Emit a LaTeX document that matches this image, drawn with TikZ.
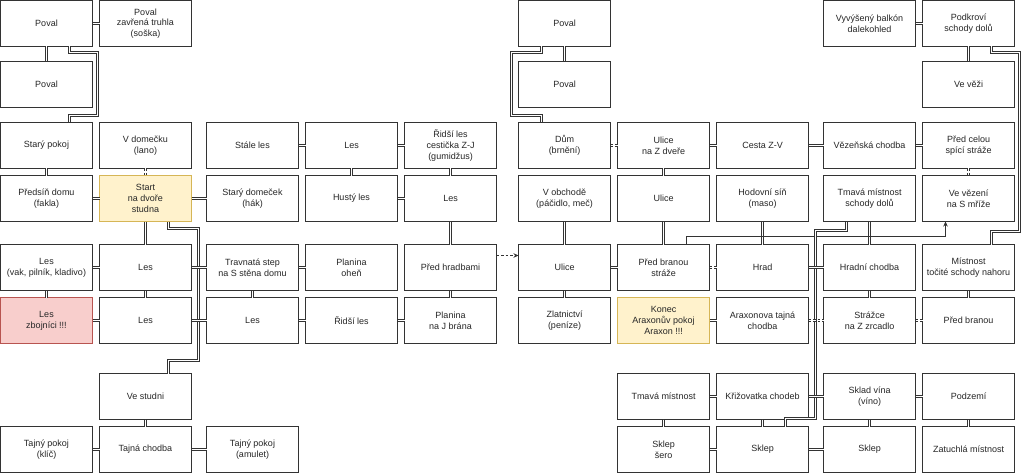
\documentclass[tikz,border=0pt]{standalone}
\usepackage{fontspec}
\setmainfont{Liberation Sans}
\usetikzlibrary{arrows.meta}
\definecolor{ylwf}{HTML}{FFF2CC}
\definecolor{ylwd}{HTML}{D6B656}
\definecolor{redf}{HTML}{F8CECC}
\definecolor{redd}{HTML}{B85450}
\definecolor{ln}{HTML}{333333}
\begin{document}
\begin{tikzpicture}[x=1pt,y=-1pt,
  box/.style={draw=ln, fill=white, line width=0.75pt, minimum width=92pt, minimum height=46pt,
    inner sep=0pt, outer sep=0pt, align=center, font=\fontsize{9}{10.8}\selectfont, text=black!85},
  startbox/.style={box, fill=ylwf, draw=ylwd},
  dangerbox/.style={box, fill=redf, draw=redd},
  link/.style={draw=ln, line width=1pt, double=white, double distance=1.2pt},
  dlink/.style={link, dash pattern=on 2.5pt off 2pt},
  arr/.style={draw=ln, line width=0.75pt, -{Stealth[length=5pt,width=4.5pt]}},
  darr/.style={arr, dash pattern=on 2.5pt off 2pt}]
\useasboundingbox (0,0) rectangle (1024,473);
% ---------- left part ----------
\node[box] (a00) at (46.5,23.5) {Poval};
\node[box] (a10) at (145.5,23.5) {Poval\\zavřená truhla\\(soška)};
\node[box] (a01) at (46.5,84.5) {Poval};
\node[box] (a02) at (46.5,145.5) {Starý pokoj};
\node[box] (a12) at (145.5,145.5) {V domečku\\(lano)};
\node[box] (a22) at (252.5,145.5) {Stále les};
\node[box] (a32) at (351.5,145.5) {Les};
\node[box] (a42) at (450.5,145.5) {Řidší les\\cestička Z-J\\(gumidžus)};
\node[box] (a03) at (46.5,198.5) {Předsíň domu\\(fakla)};
\node[startbox] (a13) at (145.5,198.5) {Start\\na dvoře\\studna};
\node[box] (a23) at (252.5,198.5) {Starý domeček\\(hák)};
\node[box] (a33) at (351.5,198.5) {Hustý les};
\node[box] (a43) at (450.5,198.5) {Les};
\node[box] (a04) at (46.5,267.5) {Les\\(vak, pilník, kladivo)};
\node[box] (a14) at (145.5,267.5) {Les};
\node[box] (a24) at (252.5,267.5) {Travnatá step\\na S stěna domu};
\node[box] (a34) at (351.5,267.5) {Planina\\oheň};
\node[box] (a44) at (450.5,267.5) {Před hradbami};
\node[dangerbox] (a05) at (46.5,320.5) {Les\\zbojníci !!!};
\node[box] (a15) at (145.5,320.5) {Les};
\node[box] (a25) at (252.5,320.5) {Les};
\node[box] (a35) at (351.5,320.5) {Řidší les};
\node[box] (a45) at (450.5,320.5) {Planina\\na J brána};
\node[box] (a16) at (145.5,396.5) {Ve studni};
\node[box] (a07) at (46.5,449.5) {Tajný pokoj\\(klíč)};
\node[box] (a17) at (145.5,449.5) {Tajná chodba};
\node[box] (a27) at (252.5,449.5) {Tajný pokoj\\(amulet)};
% ---------- right part ----------
\node[box] (b50) at (564.5,23.5) {Poval};
\node[box] (b51) at (564.5,84.5) {Poval};
\node[box] (b80) at (869.5,23.5) {Vyvýšený balkón\\dalekohled};
\node[box] (b90) at (968.5,23.5) {Podkroví\\schody dolů};
\node[box] (b91) at (968.5,84.5) {Ve věži};
\node[box] (b52) at (564.5,145.5) {Dům\\(brnění)};
\node[box] (b62) at (663.5,145.5) {Ulice\\na Z dveře};
\node[box] (b72) at (762.5,145.5) {Cesta Z-V};
\node[box] (b82) at (869.5,145.5) {Vězeňská chodba};
\node[box] (b92) at (968.5,145.5) {Před celou\\spící stráže};
\node[box] (b53) at (564.5,198.5) {V obchodě\\(páčidlo, meč)};
\node[box] (b63) at (663.5,198.5) {Ulice};
\node[box] (b73) at (762.5,198.5) {Hodovní síň\\(maso)};
\node[box] (b83) at (869.5,198.5) {Tmavá místnost\\schody dolů};
\node[box] (b93) at (968.5,198.5) {Ve vězení\\na S mříže};
\node[box] (b54) at (564.5,267.5) {Ulice};
\node[box] (b64) at (663.5,267.5) {Před branou\\stráže};
\node[box] (b74) at (762.5,267.5) {Hrad};
\node[box] (b84) at (869.5,267.5) {Hradní chodba};
\node[box] (b94) at (968.5,267.5) {Místnost\\točité schody nahoru};
\node[box] (b55) at (564.5,320.5) {Zlatnictví\\(peníze)};
\node[startbox] (b65) at (663.5,320.5) {Konec\\Araxonův pokoj\\Araxon !!!};
\node[box] (b75) at (762.5,320.5) {Araxonova tajná\\chodba};
\node[box] (b85) at (869.5,320.5) {Strážce\\na Z zrcadlo};
\node[box] (b95) at (968.5,320.5) {Před branou};
\node[box] (b66) at (663.5,396.5) {Tmavá místnost};
\node[box] (b76) at (762.5,396.5) {Křižovatka chodeb};
\node[box] (b86) at (869.5,396.5) {Sklad vína\\(víno)};
\node[box] (b96) at (968.5,396.5) {Podzemí};
\node[box] (b67) at (663.5,449.5) {Sklep\\šero};
\node[box] (b77) at (762.5,449.5) {Sklep};
\node[box] (b87) at (869.5,449.5) {Sklep};
\node[box] (b97) at (968.5,449.5) {Zatuchlá místnost};
% ---------- left connectors ----------
\draw[link] ([xshift=23pt]a00.south) -- ++(0,6) -| (97.5,115.5) -| ([xshift=23pt]a02.north);
\draw[link] ([xshift=23pt]a13.south) -- ++(0,7) -| (198.5,360.5) -| ([xshift=23pt]a16.north);
\foreach \p/\q in {a00/a10,a03/a13,a13/a23,a04/a14,a14/a24,a05/a15,a15/a25,a07/a17,a17/a27,
  a22/a32,a32/a42,a33/a43,a24/a34,a25/a35,a35/a45}
  \draw[link] (\p.east) -- (\q.west);
\foreach \p/\q in {a00/a01,a02/a03,a13/a14,a04/a05,a14/a15,a16/a17,a32/a33,a42/a43,a43/a44,a24/a25,a44/a45}
  \draw[link] (\p.south) -- (\q.north);
\draw[dlink] (a12.south) -- (a13.north);
\draw[darr] ([yshift=12pt]a44.east) -- ([yshift=12pt]b54.west);
% ---------- right connectors ----------
\draw[link] ([xshift=-23pt]b50.south) -- ++(0,6) -| (511.5,115.5) -| ([xshift=-23pt]b52.north);
\draw[link] ([xshift=23pt]b90.south) -- ++(0,6) -| (1019.5,231.5) -| ([xshift=23pt]b94.north);
\foreach \p/\q in {b50/b51,b90/b91,b62/b63,b53/b54,b63/b64,b73/b74,b83/b84,b54/b55,b84/b85,b94/b95,
  b66/b67,b76/b77,b86/b87,b96/b97}
  \draw[link] (\p.south) -- (\q.north);
\draw[arr] ([xshift=23pt]b64.north) |- (945.5,236.5) -- ([xshift=-23pt]b93.south);
\draw[link] ([xshift=-23pt]b83.south) -- ++(0,9) -| (815.5,418.5) -| ([xshift=23pt]b77.north);
\foreach \p/\q in {b80/b90,b62/b72,b72/b82,b82/b92,b54/b64,b74/b84,b65/b75,b66/b76,b76/b86,b86/b96,
  b67/b77,b77/b87}
  \draw[link] (\p.east) -- (\q.west);
\foreach \p/\q in {b52/b62,b64/b74,b75/b85,b85/b95}
  \draw[dlink] (\p.east) -- (\q.west);
\draw[dlink] (b92.south) -- (b93.north);
\end{tikzpicture}
\end{document}
